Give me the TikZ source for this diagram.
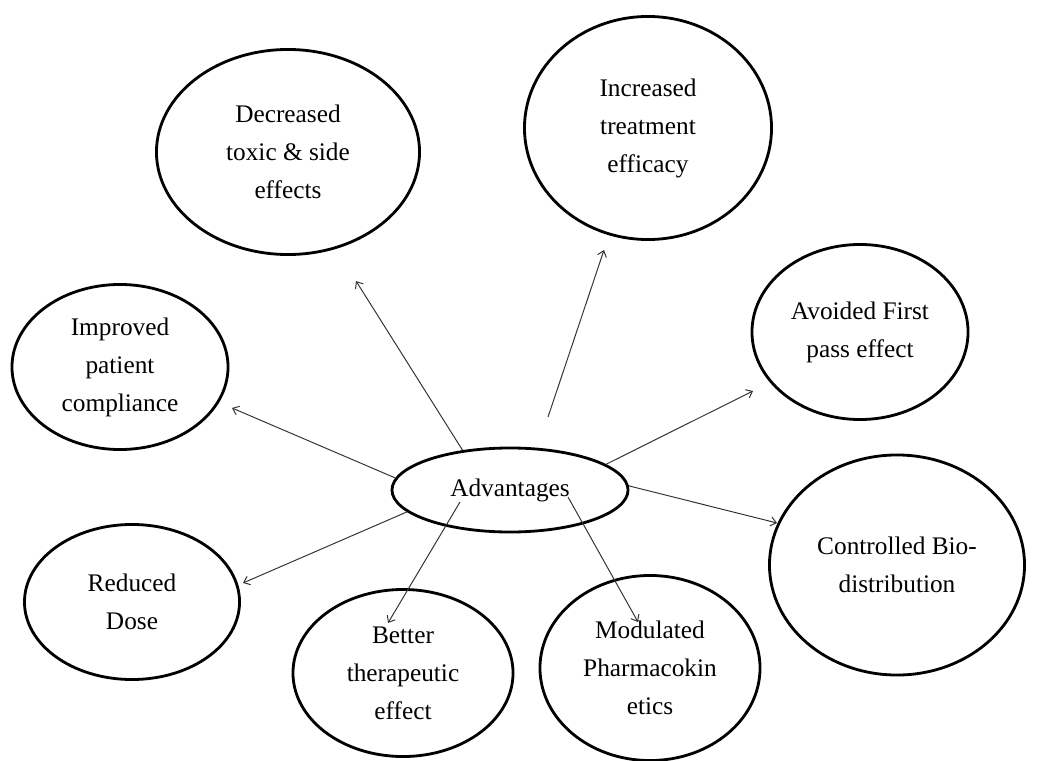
\documentclass[tikz,border=0pt]{standalone}
\usepackage{fontspec}
\setmainfont{Liberation Serif}
\usetikzlibrary{shapes.geometric,arrows.meta}

\begin{document}
\begin{tikzpicture}[x=0.025cm,y=-0.025cm,
    bubble/.style={ellipse,draw,line width=2pt,inner sep=0pt,align=center,
      font=\fontsize{18}{27}\selectfont},
    arr/.style={-{Straight Barb[length=4pt,width=6.5pt]},line width=0.7pt,draw=black!80}]
  \useasboundingbox (0,0) rectangle (1038,761);

  % centre
  \node[bubble,minimum width=5.9cm,minimum height=2.1cm] (adv) at (510,490) {Advantages};

  % outer bubbles
  \node[bubble,minimum width=6.575cm,minimum height=5.125cm] (decr) at (288,152)
    {Decreased\\ toxic \& side\\ effects};
  \node[bubble,minimum width=6.175cm,minimum height=5.575cm] (incr) at (648,128)
    {Increased\\ treatment\\ efficacy};
  \node[bubble,minimum width=5.4cm,minimum height=4.375cm] (avoid) at (860,332)
    {Avoided First\\ pass effect};
  \node[bubble,minimum width=5.4cm,minimum height=4.125cm] (impr) at (120,367)
    {Improved\\ patient\\ compliance};
  \node[bubble,minimum width=6.375cm,minimum height=5.5cm] (ctrl) at (897,565)
    {Controlled Bio-\\ distribution};
  \node[bubble,minimum width=5.375cm,minimum height=3.875cm] (redu) at (132,602)
    {Reduced\\ Dose};
  \node[bubble,minimum width=5.5cm,minimum height=4.175cm] (better) at (403,673)
    {Better\\ therapeutic\\ effect};
  \node[bubble,minimum width=5.5cm,minimum height=4.625cm] (modul) at (650,668)
    {Modulated\\ Pharmacokin\\ etics};

  % free ends of the arrows
  \coordinate (tDecr) at (356,281);
  \coordinate (sIncr) at (548,417);
  \coordinate (tIncr) at (604,250);
  \coordinate (tAvoid) at (753,391);
  \coordinate (tCtrl) at (777,523);
  \coordinate (tImpr) at (232,408);
  \coordinate (tRedu) at (243,583);
  \coordinate (sBetter) at (460,502);
  \coordinate (tBetter) at (388,623);
  \coordinate (sModul) at (568,497);
  \coordinate (tModul) at (638,622);

  \draw[arr] (adv.140) -- (tDecr);
  \draw[arr] (sIncr) -- (tIncr);
  \draw[arr] (adv.15) -- (tAvoid);
  \draw[arr] (adv.2) -- (tCtrl);
  \draw[arr] (adv.174) -- (tImpr);
  \draw[arr] (adv.192) -- (tRedu);
  \draw[arr] (sBetter) -- (tBetter);
  \draw[arr] (sModul) -- (tModul);
\end{tikzpicture}
\end{document}
